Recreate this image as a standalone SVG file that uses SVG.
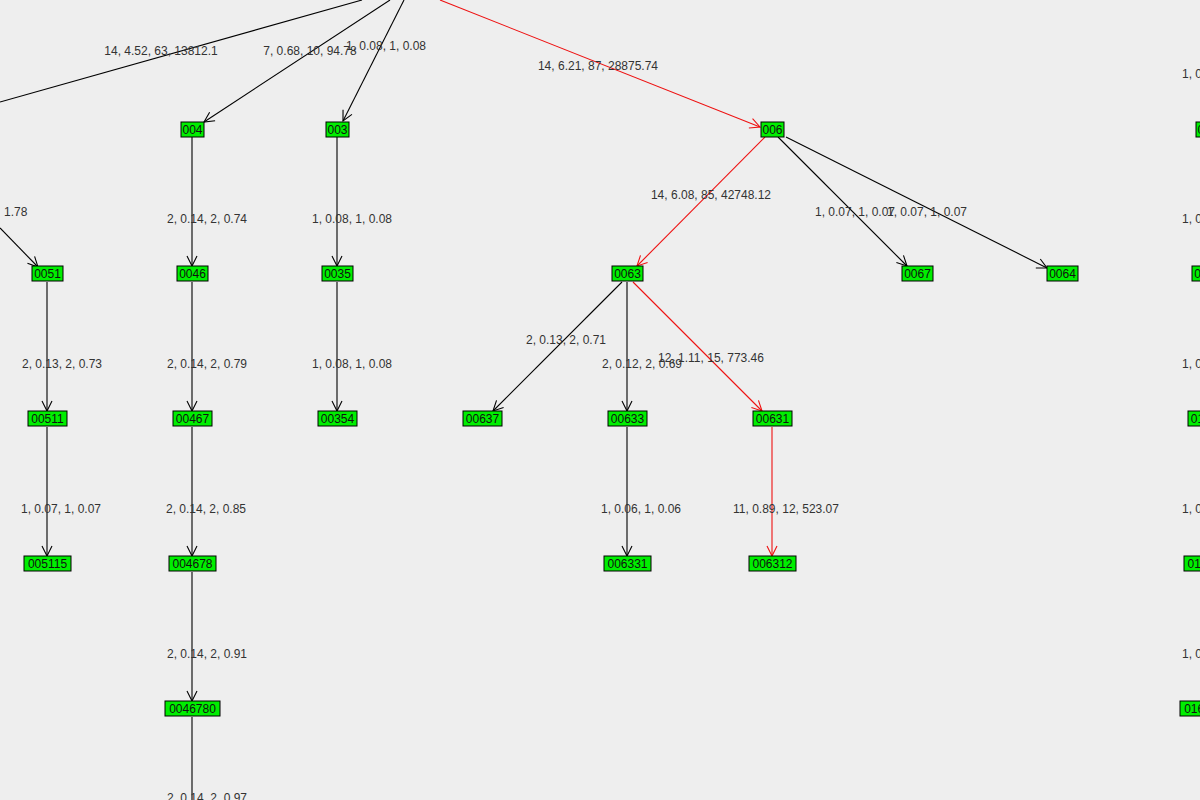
<svg xmlns="http://www.w3.org/2000/svg" width="1200" height="800" viewBox="0 0 1200 800">
<style>
.n rect{fill:#00ee00;stroke:#000;stroke-width:1}
.n text{font-family:"Liberation Sans",Arial,sans-serif;font-size:12px;fill:#111;text-anchor:middle}
.e line{stroke:#000;stroke-width:1.1;fill:none}
.e line.r{stroke:#ee1111}
.l text{font-family:"Liberation Sans",Arial,sans-serif;font-size:12px;fill:#333;text-anchor:middle}
</style>
<defs>
<marker id="a" viewBox="0 0 12 12" refX="11" refY="6" markerWidth="12" markerHeight="12" markerUnits="userSpaceOnUse" orient="auto"><path d="M1,1 L11,6 L1,11" fill="none" stroke="#000" stroke-width="1.1"/></marker>
<marker id="ar" viewBox="0 0 12 12" refX="11" refY="6" markerWidth="12" markerHeight="12" markerUnits="userSpaceOnUse" orient="auto"><path d="M1,1 L11,6 L1,11" fill="none" stroke="#ee1111" stroke-width="1.1"/></marker>
</defs>
<rect width="1200" height="800" fill="#eeeeee"/>
<g class="e" id="connectors">
<line x1="362" y1="0" x2="0" y2="102"/>
<line x1="390" y1="0" x2="204" y2="122" marker-end="url(#a)"/>
<line x1="404" y1="0" x2="343" y2="121" marker-end="url(#a)"/>
<line class="r" x1="440" y1="0" x2="760" y2="127" marker-end="url(#ar)"/>
<line x1="0" y1="228" x2="38" y2="267" marker-end="url(#a)"/>
<line x1="192" y1="137" x2="192" y2="266" marker-end="url(#a)"/>
<line x1="337" y1="137" x2="337" y2="266" marker-end="url(#a)"/>
<line class="r" x1="765" y1="137" x2="637" y2="266" marker-end="url(#ar)"/>
<line x1="778" y1="137" x2="907" y2="266" marker-end="url(#a)"/>
<line x1="786" y1="137" x2="1047" y2="268" marker-end="url(#a)"/>
<line x1="47" y1="282" x2="47" y2="411" marker-end="url(#a)"/>
<line x1="192" y1="282" x2="192" y2="411" marker-end="url(#a)"/>
<line x1="337" y1="282" x2="337" y2="411" marker-end="url(#a)"/>
<line x1="622" y1="282" x2="493" y2="411" marker-end="url(#a)"/>
<line x1="627" y1="282" x2="627" y2="411" marker-end="url(#a)"/>
<line class="r" x1="633" y1="282" x2="762" y2="411" marker-end="url(#ar)"/>
<line x1="47" y1="427" x2="47" y2="556" marker-end="url(#a)"/>
<line x1="192" y1="427" x2="192" y2="556" marker-end="url(#a)"/>
<line x1="627" y1="427" x2="627" y2="556" marker-end="url(#a)"/>
<line class="r" x1="772" y1="427" x2="772" y2="556" marker-end="url(#ar)"/>
<line x1="192" y1="572" x2="192" y2="701" marker-end="url(#a)"/>
<line x1="192" y1="717" x2="192" y2="800"/>
</g>
<g class="l" id="labels">
<text x="161" y="55">14, 4.52, 63, 13812.1</text>
<text x="310" y="55">7, 0.68, 10, 94.78</text>
<text x="386" y="50">1, 0.08, 1, 0.08</text>
<text x="598" y="70">14, 6.21, 87, 28875.74</text>
<text x="711" y="199">14, 6.08, 85, 42748.12</text>
<text x="855" y="216">1, 0.07, 1, 0.07</text>
<text x="927" y="216">1, 0.07, 1, 0.07</text>
<text x="4" y="216" style="text-anchor:start">1.78</text>
<text x="207" y="223">2, 0.14, 2, 0.74</text>
<text x="352" y="223">1, 0.08, 1, 0.08</text>
<text x="62" y="368">2, 0.13, 2, 0.73</text>
<text x="207" y="368">2, 0.14, 2, 0.79</text>
<text x="352" y="368">1, 0.08, 1, 0.08</text>
<text x="566" y="344">2, 0.13, 2, 0.71</text>
<text x="642" y="368">2, 0.12, 2, 0.69</text>
<text x="711" y="362">12, 1.11, 15, 773.46</text>
<text x="61" y="513">1, 0.07, 1, 0.07</text>
<text x="206" y="513">2, 0.14, 2, 0.85</text>
<text x="641" y="513">1, 0.06, 1, 0.06</text>
<text x="786" y="513">11, 0.89, 12, 523.07</text>
<text x="207" y="658">2, 0.14, 2, 0.91</text>
<text x="207" y="802">2, 0.14, 2, 0.97</text>
<text x="1182" y="78" style="text-anchor:start">1, 0.07, 1, 0.07</text>
<text x="1182" y="223" style="text-anchor:start">1, 0.07, 1, 0.07</text>
<text x="1182" y="368" style="text-anchor:start">1, 0.07, 1, 0.07</text>
<text x="1182" y="513" style="text-anchor:start">1, 0.07, 1, 0.07</text>
<text x="1182" y="658" style="text-anchor:start">1, 0.07, 1, 0.07</text>
</g>
<g class="n" id="n004"><rect x="181" y="122" width="23" height="15"/><text x="192.5" y="134">004</text></g>
<g class="n" id="n003"><rect x="326" y="122" width="23" height="15"/><text x="337.5" y="134">003</text></g>
<g class="n" id="n006"><rect x="761" y="122" width="23" height="15"/><text x="772.5" y="134">006</text></g>
<g class="n" id="n0051"><rect x="32" y="266" width="31" height="15"/><text x="47.5" y="278">0051</text></g>
<g class="n" id="n0046"><rect x="177" y="266" width="31" height="15"/><text x="192.5" y="278">0046</text></g>
<g class="n" id="n0035"><rect x="322" y="266" width="31" height="15"/><text x="337.5" y="278">0035</text></g>
<g class="n" id="n0063"><rect x="612" y="266" width="31" height="15"/><text x="627.5" y="278">0063</text></g>
<g class="n" id="n0067"><rect x="902" y="266" width="31" height="15"/><text x="917.5" y="278">0067</text></g>
<g class="n" id="n0064"><rect x="1047" y="266" width="31" height="15"/><text x="1062.5" y="278">0064</text></g>
<g class="n" id="n00511"><rect x="28" y="411" width="39" height="15"/><text x="47.5" y="423">00511</text></g>
<g class="n" id="n00467"><rect x="173" y="411" width="39" height="15"/><text x="192.5" y="423">00467</text></g>
<g class="n" id="n00354"><rect x="318" y="411" width="39" height="15"/><text x="337.5" y="423">00354</text></g>
<g class="n" id="n00637"><rect x="463" y="411" width="39" height="15"/><text x="482.5" y="423">00637</text></g>
<g class="n" id="n00633"><rect x="608" y="411" width="39" height="15"/><text x="627.5" y="423">00633</text></g>
<g class="n" id="n00631"><rect x="753" y="411" width="39" height="15"/><text x="772.5" y="423">00631</text></g>
<g class="n" id="n005115"><rect x="24" y="556" width="47" height="15"/><text x="47.5" y="568">005115</text></g>
<g class="n" id="n004678"><rect x="169" y="556" width="47" height="15"/><text x="192.5" y="568">004678</text></g>
<g class="n" id="n006331"><rect x="604" y="556" width="47" height="15"/><text x="627.5" y="568">006331</text></g>
<g class="n" id="n006312"><rect x="749" y="556" width="47" height="15"/><text x="772.5" y="568">006312</text></g>
<g class="n" id="n0046780"><rect x="165" y="701" width="55" height="15"/><text x="192.5" y="713">0046780</text></g>
<g class="n" id="r1"><rect x="1196" y="122" width="23" height="15"/><text x="1207.5" y="134">016</text></g>
<g class="n" id="r2"><rect x="1192" y="266" width="31" height="15"/><text x="1207.5" y="278">0160</text></g>
<g class="n" id="r3"><rect x="1188" y="411" width="39" height="15"/><text x="1207.5" y="423">01604</text></g>
<g class="n" id="r4"><rect x="1184" y="556" width="47" height="15"/><text x="1207.5" y="568">016045</text></g>
<g class="n" id="r5"><rect x="1180" y="701" width="55" height="15"/><text x="1207.5" y="713">0160456</text></g>
</svg>
